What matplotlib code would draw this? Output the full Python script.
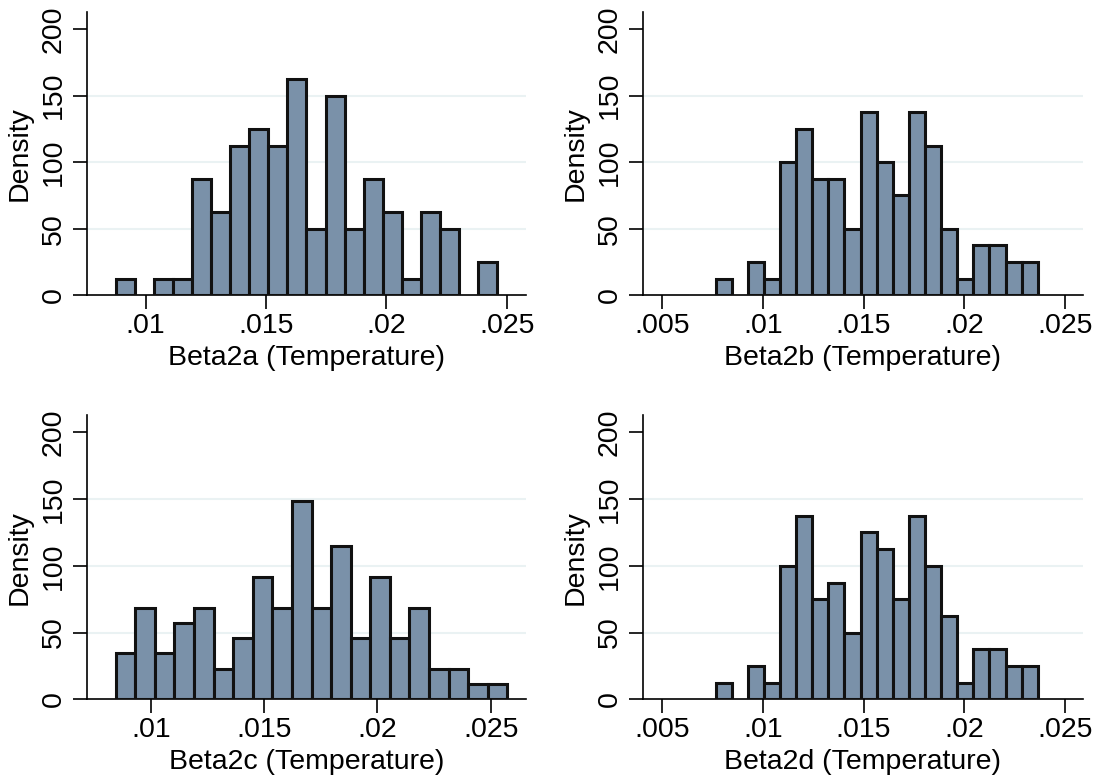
import matplotlib
matplotlib.use("Agg")
import matplotlib.pyplot as plt
import numpy as np

plt.rcParams['font.family'] = ['Liberation Sans', 'DejaVu Sans']

# densities, 20 bins per panel
dens_a = [12.5, 0, 12.5, 12.5, 87.5, 62.5, 112.5, 125, 112.5, 162.5,
          50, 150, 50, 87.5, 62.5, 12.5, 62.5, 50, 0, 25]
dens_b = [12.5, 0, 25, 12.5, 100, 125, 87.5, 87.5, 50, 137.5,
          100, 75, 137.5, 112.5, 50, 12.5, 37.5, 37.5, 25, 25]
dens_c = [34.4, 68.7, 34.4, 57.3, 68.7, 22.9, 45.8, 91.6, 68.7, 148.9,
          68.7, 114.5, 45.8, 91.6, 45.8, 68.7, 22.9, 22.9, 11.5, 11.5]
dens_d = [12.5, 0, 25, 12.5, 100, 137.5, 75, 87.5, 50, 125,
          112.5, 75, 137.5, 100, 62.5, 12.5, 37.5, 37.5, 25, 25]

# first bin start and bin width
bin_start = [0.00875, 0.00765, 0.00844, 0.00765]
bin_width = [0.000793, 0.0008, 0.000865, 0.0008]

labels = ["Beta2a (Temperature)", "Beta2b (Temperature)",
          "Beta2c (Temperature)", "Beta2d (Temperature)"]
xticks_short = [0.01, 0.015, 0.02, 0.025]
xticks_long = [0.005, 0.01, 0.015, 0.02, 0.025]
yticks = [0, 50, 100, 150, 200]

W, H = 1098, 776
fig = plt.figure(figsize=(W / 100, H / 100), dpi=100)

# axes boxes in pixels: left, right, y of zero, top
boxes = [(87.3, 526, 295.3, 11.7), (643.3, 1082.7, 295.3, 11.7),
         (87.3, 526, 699.3, 415), (643.3, 1082.7, 699.3, 415)]
xlims = [(0.007576, 0.0258), (0.00406, 0.02588),
         (0.00719, 0.02656), (0.00406, 0.02588)]
all_dens = [dens_a, dens_b, dens_c, dens_d]
all_xt = [xticks_short, xticks_long, xticks_short, xticks_long]

fill = '#7A91A9'
fs = 20.5

for i in range(4):
    l, r, y0, t = boxes[i]
    ax = fig.add_axes([l / W, 1 - y0 / H, (r - l) / W, (y0 - t) / H])
    d = np.array(all_dens[i])
    edges = bin_start[i] + bin_width[i] * np.arange(len(d))
    keep = d > 0
    ax.bar(edges[keep], d[keep], width=bin_width[i], align='edge',
           color=fill, edgecolor='#111111', linewidth=2.2, zorder=3)
    for g in [50, 100, 150]:
        ax.axhline(g, color='#EAF2F3', linewidth=1.5, zorder=1)
    ax.set_xlim(*xlims[i])
    ax.set_ylim(0, 213)
    ax.set_yticks(yticks)
    ax.set_yticklabels([str(v) for v in yticks], rotation=90, va='center',
                       fontsize=fs)
    ax.set_xticks(all_xt[i])
    ax.set_xticklabels([('%g' % v).lstrip('0') for v in all_xt[i]],
                       fontsize=fs)
    ax.tick_params(length=10, width=1.2, pad=3)
    ax.tick_params(axis='y', pad=5)
    ax.spines['top'].set_visible(False)
    ax.spines['right'].set_visible(False)
    ax.spines['left'].set_linewidth(1.2)
    ax.spines['bottom'].set_linewidth(1.2)
    ax.set_xlabel(labels[i], fontsize=fs, labelpad=4)
    ax.set_ylabel("Density", fontsize=fs, labelpad=6)

fig.savefig("out.png", dpi=100)
